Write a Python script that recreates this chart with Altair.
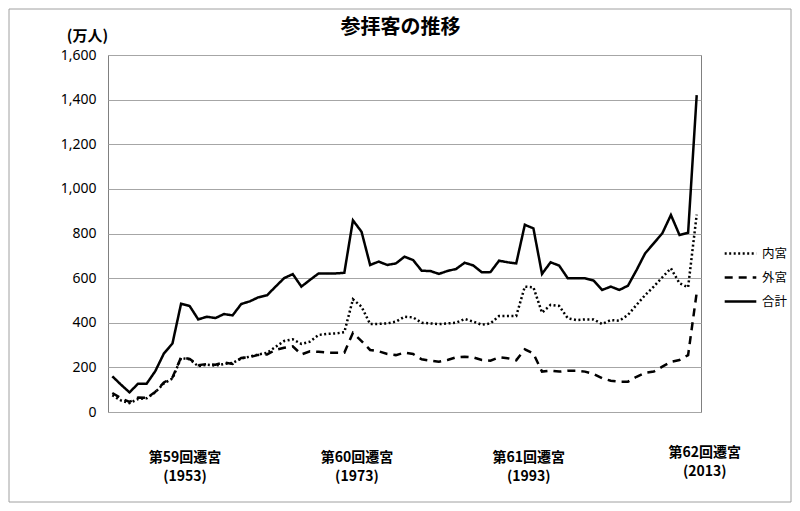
import altair as alt
import pandas as pd

title_text = ["参拝客の推移"]

years = list(range(1945, 2014))

inner = [75, 52, 40, 58, 62, 88, 128, 150, 242, 236,
         205, 212, 208, 215, 220, 240, 248, 258, 265, 292,
         318, 326, 305, 315, 345, 350, 352, 358, 505, 472,
         394, 395, 397, 405, 427, 424, 400, 397, 394, 397,
         400, 417, 405, 391, 397, 430, 430, 430, 562, 559,
         445, 480, 475, 420, 412, 415, 415, 394, 412, 409,
         435, 480, 524, 562, 604, 644, 577, 559, 885]

outer = [85, 62, 45, 65, 63, 90, 132, 155, 245, 238,
         210, 215, 212, 222, 215, 242, 246, 256, 258, 278,
         288, 294, 258, 272, 270, 266, 266, 266, 355, 318,
         278, 272, 260, 255, 266, 260, 236, 230, 225, 233,
         245, 248, 245, 233, 230, 245, 241, 232, 281, 262,
         181, 185, 181, 185, 185, 181, 170, 151, 140, 136,
         136, 158, 176, 181, 203, 225, 233, 255, 535]

total = [160, 123, 88, 127, 127, 183, 262, 307, 485, 475,
         415, 427, 421, 439, 433, 484, 496, 514, 523, 562,
         600, 618, 562, 592, 621, 621, 621, 624, 859, 808,
         659, 674, 659, 666, 696, 681, 633, 632, 619, 632,
         641, 669, 657, 626, 627, 678, 671, 666, 839, 823,
         619, 671, 656, 599, 599, 599, 589, 547, 562, 547,
         566, 636, 711, 756, 801, 883, 793, 803, 1420]

series_names = ["内宮", "外宮", "合計"]
y_ticks = [0, 200, 400, 600, 800, 1000, 1200, 1400, 1600]

label_years = [1953, 1973, 1993]
label_texts = ["第59回遷宮\n(1953)", "第60回遷宮\n(1973)", "第61回遷宮\n(1993)"]
last_label_year = [2013]
last_label_text = ["第62回遷宮\n(2013)"]

rows = []
for name, vals in zip(series_names, [inner, outer, total]):
    for yr, v in zip(years, vals):
        rows.append({"year": yr, "series": name, "value": v})
df = pd.DataFrame(rows)

W, H = 593, 357
JP = "Noto Sans CJK JP"

xscale = alt.Scale(domain=[1944.5, 2013.5], nice=False, zero=False)

lines = alt.Chart(df).mark_line(color="black", strokeWidth=2.5).encode(
    x=alt.X("year:Q", scale=xscale, axis=None),
    y=alt.Y("value:Q",
            scale=alt.Scale(domain=[0, 1600], nice=False),
            axis=alt.Axis(values=y_ticks, format=",d", grid=True,
                          gridColor="#a6a6a6", gridWidth=1,
                          ticks=False, domain=False,
                          labelFont="Noto Sans", labelFontSize=14,
                          labelColor="black", labelPadding=12,
                          title="(万人)", titleAngle=0,
                          titleX=-21, titleY=-20,
                          titleAlign="center", titleBaseline="middle",
                          titleFont=JP, titleFontSize=15,
                          titleFontWeight="bold", titleColor="black")),
    strokeDash=alt.StrokeDash(
        "series:N",
        scale=alt.Scale(domain=series_names,
                        range=[[2, 2.5], [8, 6], [1, 0]]),
        legend=alt.Legend(title=None, orient="none",
                          legendX=615, legendY=181,
                          symbolType="stroke", symbolStrokeColor="black",
                          symbolStrokeWidth=2.5, symbolSize=1000,
                          labelFont=JP, labelFontSize=12.5,
                          labelColor="black", labelOffset=4,
                          rowPadding=0)),
    order="year:Q",
)

lab_df = pd.DataFrame({"year": label_years, "text": label_texts})
labels = alt.Chart(lab_df).mark_text(
    font=JP, fontSize=14, fontWeight="bold", color="black",
    lineBreak="\n", lineHeight=19, baseline="middle", dx=4
).encode(
    x=alt.X("year:Q", scale=xscale),
    y=alt.value(403),
    text="text:N",
)

last_df = pd.DataFrame({"year": last_label_year, "text": last_label_text})
last_label = alt.Chart(last_df).mark_text(
    font=JP, fontSize=14, fontWeight="bold", color="black",
    lineBreak="\n", lineHeight=19, baseline="middle", dx=8
).encode(
    x=alt.X("year:Q", scale=xscale),
    y=alt.value(398),
    text="text:N",
)

title = alt.Chart(pd.DataFrame({"t": title_text})).mark_text(
    font=JP, fontSize=20, fontWeight="bold", color="black",
    baseline="middle", align="center"
).encode(
    x=alt.value(W / 2 - 4),
    y=alt.value(-27),
    text="t:N",
)

border = alt.Chart(pd.DataFrame({"a": [0]})).mark_rect(
    filled=False, stroke="#a0a0a0", strokeWidth=1
).encode(
    x=alt.value(-99), x2=alt.value(683),
    y=alt.value(-46), y2=alt.value(447),
)

chart = alt.layer(border, lines, labels, last_label, title).properties(
    width=W, height=H,
    autosize=alt.AutoSizeParams(type="none"),
    padding={"left": 100, "top": 47, "right": 91, "bottom": 91},
).configure_view(stroke="#808080", strokeWidth=1)

chart.save("out.html", embed_options={"renderer": "svg", "actions": False})
